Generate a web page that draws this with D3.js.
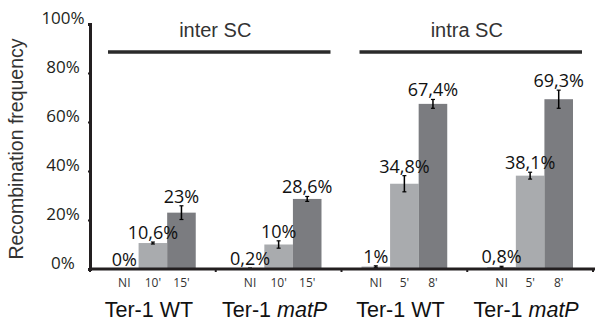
<!DOCTYPE html>
<html>
<head>
<meta charset="utf-8">
<script src="https://cdn.jsdelivr.net/npm/d3@7"></script>
<style>
  body { margin: 0; background: #fff; }
  svg { display: block; }
</style>
</head>
<body>
<svg id="chart"></svg>
<script>
  var groups = ["Ter-1 WT", "Ter-1 matP", "Ter-1 WT ", "Ter-1 matP "];
  var times = [["NI", "10'", "15'"], ["NI", "10'", "15'"], ["NI", "5'", "8'"], ["NI", "5'", "8'"]];
  var values = [[0, 10.6, 23], [0.2, 10, 28.6], [1, 34.8, 67.4], [0.8, 38.1, 69.3]];
  var errors = [[0, 0.4, 2.8], [0.2, 1.5, 1], [0.3, 3.3, 1.8], [0.3, 1.4, 3.7]];
  var valueLabels = [["0%", "10,6%", "23%"], ["0,2%", "10%", "28,6%"], ["1%", "34,8%", "67,4%"], ["0,8%", "38,1%", "69,3%"]];
  var sections = ["inter SC", "intra SC"];
  var yTicks = [0, 20, 40, 60, 80, 100];

  var width = 596, height = 322;
  var barColors = ["#a9abae", "#a9abae", "#7b7c80"];
  var ink = "#231f20";

  var svg = d3.select("#chart").attr("width", width).attr("height", height);

  var x0 = d3.scaleBand().domain(d3.range(groups.length)).range([90, 593]);
  var x1 = d3.scaleBand().domain([0, 1, 2]).range([0, x0.bandwidth()]).paddingOuter(0.7);
  var y = d3.scaleLinear().domain([0, 100]).range([269, 24]);

  // y axis
  var yAxis = svg.append("g")
    .attr("transform", "translate(90,0)")
    .call(d3.axisLeft(y).tickValues(yTicks).tickSize(2).tickFormat(d => d + "%"));
  yAxis.select(".domain").attr("stroke", ink).attr("stroke-width", 3);
  yAxis.selectAll(".tick line").attr("stroke", ink).attr("stroke-width", 2);
  yAxis.selectAll(".tick text")
    .attr("x", -27).attr("dy", "-0.05em")
    .attr("text-anchor", "middle")
    .style("font-family", "Open Sans")
    .style("font-size", "17px")
    .attr("fill", ink);

  svg.append("text")
    .attr("transform", "translate(23,149) rotate(-90)")
    .attr("text-anchor", "middle")
    .style("font-family", "Liberation Sans")
    .style("font-size", "19.5px")
    .attr("fill", "#333")
    .text("Recombination frequency");

  // bars
  var gs = svg.selectAll(".grp")
    .data(groups)
    .enter().append("g")
    .attr("class", "grp")
    .attr("transform", (d, i) => "translate(" + x0(i) + ",0)");

  gs.selectAll("rect")
    .data((d, i) => values[i])
    .enter().append("rect")
    .attr("x", (d, j) => x1(j))
    .attr("width", x1.bandwidth())
    .attr("y", d => y(d))
    .attr("height", d => y(0) - y(d))
    .attr("fill", (d, j) => barColors[j]);

  // error bars
  gs.each(function(d, i) {
    var g = d3.select(this);
    values[i].forEach(function(v, j) {
      var e = errors[i][j];
      if (e <= 0) return;
      var cx = x1(j) + x1.bandwidth() / 2;
      g.append("line").attr("x1", cx).attr("x2", cx)
        .attr("y1", y(v - e)).attr("y2", y(v + e))
        .attr("stroke", "#000").attr("stroke-width", 1.5);
      [v - e, v + e].forEach(function(t) {
        g.append("line").attr("x1", cx - 2).attr("x2", cx + 2)
          .attr("y1", y(t)).attr("y2", y(t))
          .attr("stroke", "#000").attr("stroke-width", 1.2);
      });
    });
  });

  // value labels
  gs.selectAll(".val")
    .data((d, i) => values[i].map((v, j) => ({ v: v, e: errors[i][j], t: valueLabels[i][j] })))
    .enter().append("text")
    .attr("class", "val")
    .attr("x", (d, j) => x1(j) + x1.bandwidth() / 2)
    .attr("y", d => y(d.v + d.e) - 3)
    .attr("text-anchor", "middle")
    .style("font-family", "Open Sans")
    .style("font-size", "18px")
    .attr("fill", "#111")
    .text(d => d.t);

  // time labels
  gs.selectAll(".time")
    .data((d, i) => times[i])
    .enter().append("text")
    .attr("class", "time")
    .attr("x", (d, j) => x1(j) + x1.bandwidth() / 2)
    .attr("y", 287)
    .attr("text-anchor", "middle")
    .style("font-family", "Open Sans")
    .style("font-size", "12px")
    .attr("fill", "#333")
    .text(d => d);

  // group labels
  var gl = gs.append("text")
    .attr("x", x0.bandwidth() / 2 - 4)
    .attr("y", 317)
    .attr("text-anchor", "middle")
    .style("font-family", "Liberation Sans")
    .style("font-size", "21.5px")
    .attr("fill", "#111");
  gl.append("tspan").text(d => d.trim().startsWith("Ter-1 matP") ? "Ter-1 " : d.trim());
  gl.filter(d => d.trim() === "Ter-1 matP").append("tspan")
    .style("font-style", "italic").text("matP");

  // x axis
  svg.append("line")
    .attr("x1", 89).attr("x2", 595)
    .attr("y1", y(0)).attr("y2", y(0))
    .attr("stroke", ink).attr("stroke-width", 3);
  svg.selectAll(".xtick")
    .data(d3.range(groups.length + 1))
    .enter().append("line")
    .attr("x1", i => i < groups.length ? x0(i) : x0.range()[1])
    .attr("x2", i => i < groups.length ? x0(i) : x0.range()[1])
    .attr("y1", y(0)).attr("y2", y(0) + 3)
    .attr("stroke", ink).attr("stroke-width", 2);

  // section brackets
  sections.forEach(function(s, k) {
    var a = x0(2 * k) + x1(0) - 2;
    var b = x0(2 * k + 1) + x1(2) + x1.bandwidth() + 9;
    svg.append("line")
      .attr("x1", a).attr("x2", b).attr("y1", 52).attr("y2", 52)
      .attr("stroke", "#2b2b2b").attr("stroke-width", 3.5);
    svg.append("text")
      .attr("x", (a + b) / 2 - 4).attr("y", 37)
      .attr("text-anchor", "middle")
      .style("font-family", "Liberation Sans")
      .style("font-size", "20px")
      .attr("fill", "#333")
      .text(s);
  });
</script>
</body>
</html>
